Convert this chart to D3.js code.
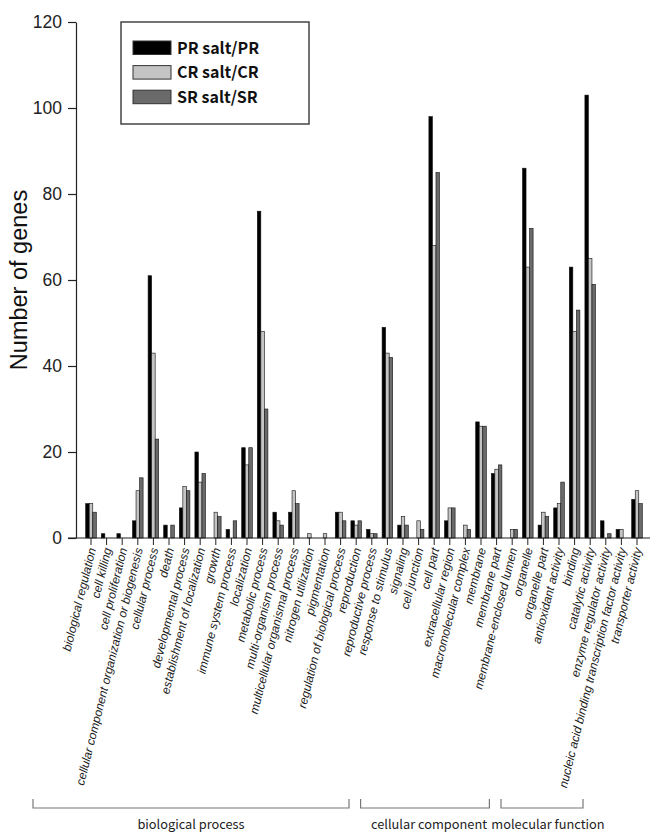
<!DOCTYPE html>
<html>
<head>
<meta charset="utf-8">
<script src="https://cdn.jsdelivr.net/npm/d3@7"></script>
<style>
  html, body { margin: 0; padding: 0; background: #fff; }
  svg { display: block; }
</style>
</head>
<body>
<svg id="chart" width="660" height="840"></svg>
<script>
const categories = [
  "biological regulation", "cell killing", "cell proliferation",
  "cellular component organization or biogenesis", "cellular process", "death",
  "developmental process", "establishment of localization", "growth",
  "immune system process", "localization", "metabolic process",
  "multi-organism process", "multicellular organismal process", "nitrogen utilization",
  "pigmentation", "regulation of biological process", "reproduction",
  "reproductive process", "response to stimulus", "signaling",
  "cell junction", "cell part", "extracellular region", "macromolecular complex",
  "membrane", "membrane part", "membrane-enclosed lumen", "organelle", "organelle part",
  "antioxidant activity", "binding", "catalytic activity", "enzyme regulator activity",
  "nucleic acid binding transcription factor activity", "transporter activity"
];
const seriesNames = ["PR salt/PR", "CR salt/CR", "SR salt/SR"];
const prValues = [8, 1, 1, 4, 61, 3, 7, 20, 0, 2, 21, 76, 6, 6, 0, 0, 6, 4, 2, 49, 3,
                  0, 98, 4, 0, 27, 15, 0, 86, 3,
                  7, 63, 103, 4, 2, 9];
const crValues = [8, 0, 0, 11, 43, 0, 12, 13, 6, 0, 17, 48, 4, 11, 1, 1, 6, 3, 1, 43, 5,
                  4, 68, 7, 3, 26, 16, 2, 63, 6,
                  8, 48, 65, 0, 2, 11];
const srValues = [6, 0, 0, 14, 23, 3, 11, 15, 5, 4, 21, 30, 3, 8, 0, 0, 4, 4, 1, 42, 3,
                  2, 85, 7, 2, 26, 17, 2, 72, 5,
                  13, 53, 59, 1, 0, 8];
const groupNames = ["biological process", "cellular component", "molecular function"];
const groupSizes = [21, 9, 6];
const yTicks = [0, 20, 40, 60, 80, 100, 120];

const colors = ["#000000", "#c4c4c4", "#6a6a6a"];
const seriesValues = [prValues, crValues, srValues];
const ARIAL = "Arial, 'Liberation Sans', Helvetica, sans-serif";

const svg = d3.select("#chart");

const x = d3.scaleBand().domain(categories).range([83.2, 644.8]).padding(0);
const xs = d3.scaleBand().domain(seriesNames).range([-5.3, 5.3]).padding(0);
const y = d3.scaleLinear().domain([0, 120]).range([538, 22]);

// bars
const gBars = svg.append("g");
seriesNames.forEach((s, si) => {
  gBars.selectAll(null)
    .data(categories.map((c, i) => ({ c, v: seriesValues[si][i] })).filter(d => d.v > 0))
    .enter().append("rect")
    .attr("x", d => x(d.c) + x.bandwidth() / 2 + xs(s))
    .attr("y", d => y(d.v))
    .attr("width", xs.bandwidth())
    .attr("height", d => y(0) - y(d.v))
    .attr("fill", colors[si])
    .attr("stroke", "#111")
    .attr("stroke-width", 0.6);
});

// y axis
const yAxis = svg.append("g")
  .attr("transform", "translate(76,0)")
  .call(d3.axisLeft(y).tickValues(yTicks).tickSize(8).tickSizeOuter(0).tickPadding(6));
yAxis.attr("font-family", ARIAL);
yAxis.select(".domain").attr("stroke", "#222").attr("stroke-width", 1.2);
yAxis.selectAll(".tick line").attr("stroke", "#222").attr("stroke-width", 1.2);
yAxis.selectAll(".tick text")
  .style("font-family", ARIAL)
  .attr("font-size", 17.5).attr("fill", "#222");

// x axis
svg.append("line")
  .attr("x1", 68).attr("x2", 650).attr("y1", y(0)).attr("y2", y(0))
  .attr("stroke", "#222").attr("stroke-width", 1.2);
const xTickG = svg.append("g").selectAll("g").data(categories).enter().append("g")
  .attr("transform", d => `translate(${x(d) + x.bandwidth() / 2},${y(0)})`);
xTickG.append("line").attr("y1", 0).attr("y2", 7).attr("stroke", "#222").attr("stroke-width", 1);
xTickG.append("text")
  .attr("transform", "translate(1,10) rotate(-76)")
  .attr("text-anchor", "end")
  .attr("dy", "0.35em")
  .style("font-family", ARIAL)
  .attr("font-style", "italic")
  .attr("font-size", 12)
  .attr("fill", "#222")
  .text(d => d);

// y label
svg.append("text")
  .attr("transform", "translate(27,280) rotate(-90)")
  .attr("text-anchor", "middle")
  .style("font-family", ARIAL)
  .attr("font-size", 23.5)
  .attr("fill", "#111")
  .text("Number of genes");

// group brackets
let start = 0;
const labelShift = [0, 4, 6];
groupNames.forEach((g, gi) => {
  const first = categories[start];
  const last = categories[start + groupSizes[gi] - 1];
  const x1 = x(first) + x.bandwidth() / 2 - 58;
  const x2 = x(last) + x.bandwidth() / 2 - 54;
  svg.append("path")
    .attr("d", `M${x1},799 V808 H${x2} V799`)
    .attr("fill", "none").attr("stroke", "#777").attr("stroke-width", 1.2);
  svg.append("text")
    .attr("x", (x1 + x2) / 2 + labelShift[gi]).attr("y", 829)
    .attr("text-anchor", "middle")
    .style("font-family", "'Noto Sans CJK KR', 'Noto Sans', sans-serif")
    .attr("font-size", 12.8)
    .attr("fill", "#222")
    .text(g);
  start += groupSizes[gi];
});

// legend
const lg = svg.append("g");
lg.append("rect").attr("x", 121).attr("y", 22).attr("width", 188).attr("height", 102)
  .attr("fill", "#fff").attr("stroke", "#444").attr("stroke-width", 1.5);
seriesNames.forEach((s, i) => {
  const yy = 41 + i * 24.6;
  lg.append("rect").attr("x", 133).attr("y", yy).attr("width", 38).attr("height", 13.5)
    .attr("fill", colors[i]).attr("stroke", "#333").attr("stroke-width", 1);
  lg.append("text").attr("x", 177).attr("y", yy + 12.5)
    .style("font-family", "'Noto Sans CJK KR', 'Open Sans', sans-serif")
    .attr("font-weight", "bold")
    .attr("font-size", 16)
    .attr("fill", "#111")
    .text(s);
});
</script>
</body>
</html>
